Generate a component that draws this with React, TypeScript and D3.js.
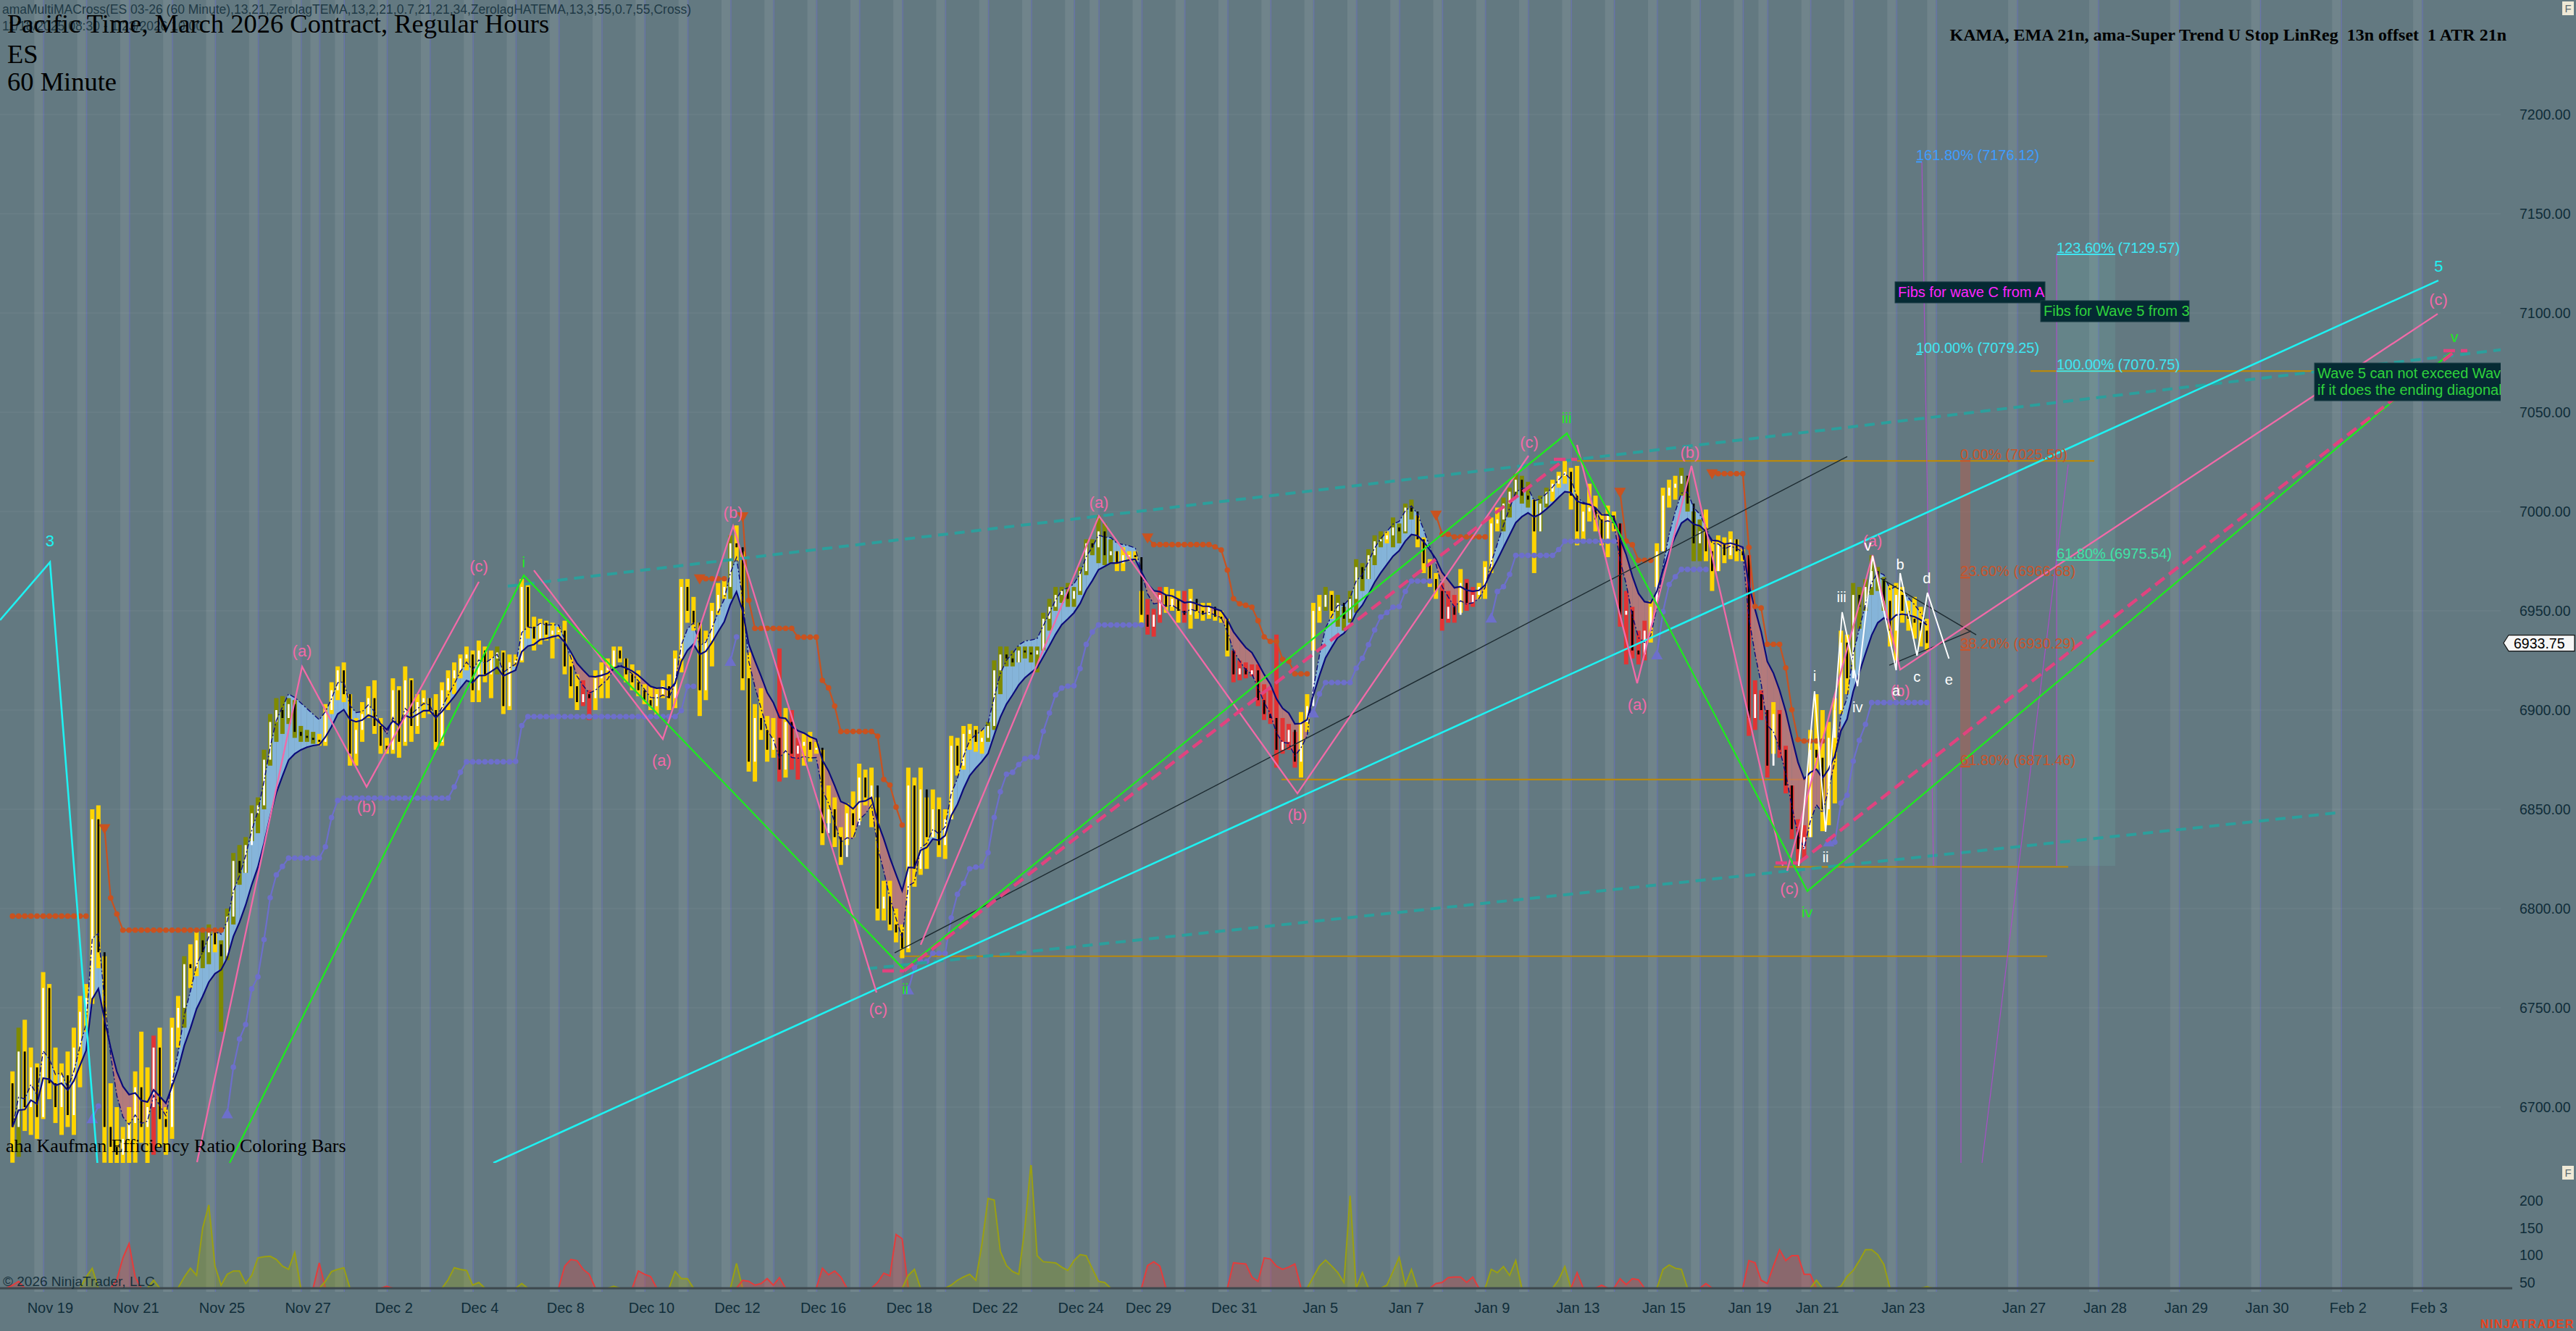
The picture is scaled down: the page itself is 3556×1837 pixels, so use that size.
import React from "react";
import * as d3 from "d3";

// ---------- sessions / axis data ----------
const sessions = ["Nov 18","Nov 19","Nov 20","Nov 21","Nov 24","Nov 25","Nov 26","Nov 27","Nov 28","Dec 1","Dec 2","Dec 3","Dec 4","Dec 5","Dec 8","Dec 9","Dec 10","Dec 11","Dec 12","Dec 15","Dec 16","Dec 17","Dec 18","Dec 19","Dec 22","Dec 23","Dec 24","Dec 26","Dec 29","Dec 30","Dec 31","Jan 2","Jan 5","Jan 6","Jan 7","Jan 8","Jan 9","Jan 12","Jan 13","Jan 14","Jan 15","Jan 16","Jan 19","Jan 20","Jan 21","Jan 22","Jan 23"];
const sessionBars = [5,7,7,7,7,7,7,3,4,7,7,7,7,7,7,7,7,7,7,7,7,7,7,7,7,7,4,7,7,7,7,7,7,7,7,7,7,7,7,7,7,7,4,7,7,7,6];
const dateTicks = ["Nov 19","Nov 21","Nov 25","Nov 27","Dec 2","Dec 4","Dec 8","Dec 10","Dec 12","Dec 16","Dec 18","Dec 22","Dec 24","Dec 29","Dec 31","Jan 5","Jan 7","Jan 9","Jan 13","Jan 15","Jan 19","Jan 21","Jan 23"];
const futureSessions = ["Jan 26","Jan 27","Jan 28","Jan 29","Jan 30","Feb 2","Feb 3"];
const futureTicks = ["Jan 27","Jan 28","Jan 29","Jan 30","Feb 2","Feb 3"];
const priceTicks = [7200,7150,7100,7050,7000,6950,6900,6850,6800,6750,6700];
const oscTicks = [200,150,100,50];
const lastPrice = 6933.75;
const firstOpen = 6712;

// ---------- 60 minute bars ----------
const highs = [
6718,6740,6744,6730,6722,
6768,6762,6730,6722,6728,6740,6756,
6762,6850,6852,6776,6712,6700,6690,
6700,6718,6738,6720,6736,6740,6700,
6745,6756,6776,6782,6790,6788,6792,
6790,6784,6800,6828,6832,6836,6852,
6856,6880,6898,6906,6907,6906,6905,
6892,6890,6889,
6888,6903,6914,6922,
6924,6908,6896,6904,6912,6915,6896,
6886,6916,6912,6922,6916,6908,6910,
6906,6908,6914,6920,6924,6928,6932,
6930,6935,6932,6930,6932,6930,6928,
6928,6966,6964,6947,6946,6945,6944,
6942,6945,6928,6918,6915,6910,6920,
6924,6926,6932,6932,6926,6923,6920,
6913,6912,6911,6915,6918,6930,6966,
6966,6957,6944,6940,6954,6964,6966,
6988,6993,6980,6929,6903,6911,6897,
6896,6931,6901,6900,6886,6888,6889,
6884,6880,6862,6856,6841,6853,6859,
6873,6870,6871,6856,6814,6814,6800,
6792,6871,6866,6871,6856,6860,6856,
6850,6887,6886,6892,6893,6892,6890,
6894,6925,6932,6932,6930,6932,6932,
6932,6932,6949,6956,6962,6962,6964,
6962,6972,6986,6986,
6998,6994,6986,6980,6982,6980,6980,
6960,6956,6951,6962,6962,6961,6960,
6960,6961,6954,6954,6954,6950,6950,
6946,6930,6925,6924,6923,6923,6913,
6910,6938,6896,6893,6889,6899,6908,
6954,6958,6962,6960,6958,6952,6960,
6976,6974,6981,6988,6990,6990,6997,
6994,7004,7006,6998,6987,6976,6969,
6964,6960,6958,6971,6966,6962,6964,
6975,6997,7002,7007,7012,7019,7018,
7015,7006,7008,7012,7016,7020,7025.5,
7022,7023,7004,7014,7008,6999,7003,
7000,6994,6960,6952,6940,6945,6955,
6984,7012,7016,7018,7022,7018,7000,
6996,7001,6986,6988,6987,6990,6986,
6981,6978,6915,6910,
6900,6904,6900,6882,6862,6845,6842,
6890,6908,6900,6894,6906,6940,6938,
6964,6962,6966,6978,6972,6967,6963,
6964,6962,6955,6957,6952,6946];
const lows = [
6672,6675,6688,6686,6684,
6694,6704,6692,6686,6690,6686,6710,
6738,6752,6770,6672,6668,6668,6668,
6670,6672,6682,6670,6676,6680,6676,
6684,6730,6740,6760,6766,6770,6772,
6778,6738,6774,6792,6812,6818,6834,
6838,6850,6872,6884,6888,6893,6886,
6884,6884,6883,
6882,6882,6898,6905,
6904,6872,6872,6884,6896,6888,6878,
6878,6878,6876,6882,6884,6888,6896,
6898,6880,6882,6900,6908,6916,6920,
6904,6904,6914,6906,6918,6898,6900,
6922,6924,6936,6930,6933,6935,6926,
6936,6918,6906,6900,6902,6895,6900,
6906,6906,6920,6924,6914,6910,6907,
6903,6900,6897,6906,6900,6901,6919,
6944,6940,6897,6905,6922,6948,6956,
6956,6975,6910,6869,6864,6885,6874,
6876,6864,6866,6870,6865,6872,6874,
6878,6832,6843,6831,6822,6832,6836,
6844,6852,6841,6794,6794,6789,6783,
6775,6778,6811,6817,6820,6836,6826,
6825,6845,6867,6870,6880,6879,6878,
6884,6890,6908,6922,6922,6924,6926,
6924,6919,6930,6940,6950,6954,6952,
6952,6958,6968,6978,
6974,6973,6974,6970,6970,6975,6975,
6943,6938,6937,6944,6949,6950,6944,
6944,6941,6946,6945,6946,6945,6944,
6927,6914,6915,6916,6917,6902,6895,
6893,6871,6878,6880,6871,6866,6889,
6930,6944,6950,6946,6942,6940,6944,
6949,6960,6966,6973,6982,6984,6982,
6984,6989,6996,6982,6969,6962,6956,
6940,6944,6944,6949,6950,6952,6956,
6956,6969,6990,6990,6997,7008,7004,
7002,6969,6990,7002,7005,7012,7014,
7001,6983,6986,6995,6990,6983,6977,
6990,6942,6923,6926,6923,6925,6934,
6962,6980,7002,7006,7008,7000,6975,
6975,6975,6960,6970,6974,6976,6975,
6975,6887,6890,6895,
6866,6878,6876,6858,6835,6822,6825,
6836,6870,6839,6842,6853,6898,6908,
6920,6941,6950,6958,6960,6950,6932,
6925,6944,6940,6936,6932,6930];
const closes = [
6690,6728,6700,6720,6695,
6760,6712,6700,6716,6696,6730,6748,
6755,6845,6778,6690,6680,6676,6684,
6692,6710,6690,6700,6730,6694,6690,
6740,6750,6772,6770,6784,6778,6788,
6782,6776,6796,6824,6818,6832,6848,
6852,6875,6894,6900,6896,6903,6889,
6887,6886,6885,
6884,6900,6910,6920,
6908,6878,6890,6898,6906,6892,6882,
6880,6910,6884,6915,6892,6904,6906,
6900,6884,6910,6916,6920,6926,6928,
6910,6930,6918,6926,6929,6902,6924,
6925,6962,6942,6936,6944,6938,6940,
6940,6922,6912,6904,6908,6906,6916,
6920,6922,6930,6926,6918,6914,6910,
6905,6902,6908,6912,6906,6926,6962,
6950,6944,6910,6935,6950,6958,6962,
6984,6982,6916,6874,6896,6890,6880,
6886,6870,6894,6878,6882,6884,6880,
6881,6838,6850,6836,6826,6848,6842,
6866,6856,6862,6800,6806,6792,6788,
6780,6862,6820,6860,6836,6850,6832,
6845,6882,6872,6888,6890,6884,6886,
6892,6920,6928,6926,6924,6930,6929,
6928,6930,6946,6952,6958,6960,6956,
6960,6970,6984,6982,
6990,6978,6980,6974,6978,6978,6977,
6948,6942,6948,6958,6952,6956,6950,
6948,6956,6950,6948,6952,6947,6946,
6930,6918,6921,6918,6920,6905,6898,
6896,6880,6884,6890,6874,6894,6902,
6950,6952,6958,6950,6954,6946,6956,
6972,6966,6978,6985,6986,6988,6992,
6990,7002,7000,6986,6974,6966,6960,
6946,6952,6948,6964,6954,6958,6962,
6972,6994,6996,7004,7010,7016,7008,
7006,6990,7004,7010,7014,7018,7020,
7008,6990,7000,7002,6996,6986,6998,
6994,6948,6950,6930,6928,6940,6952,
6980,7008,7012,7014,7018,7004,6984,
6990,6980,6970,6984,6978,6986,6980,
6978,6896,6908,6900,
6872,6898,6880,6862,6840,6830,6836,
6880,6876,6850,6886,6900,6934,6916,
6958,6952,6962,6970,6966,6955,6940,
6958,6950,6946,6944,6940,6933.75];
// lower panel oscillator (positive = olive rising, negative = red falling, 0 = at floor)
const osc = [
-45,-52,0,0,0,0,0,0,0,0,
0,0,60,76,0,0,0,-55,-95,-121,
-60,0,0,54,0,0,0,40,60,76,
63,150,192,80,45,65,71,71,48,63,
95,97,98,92,80,74,105,0,0,0,
-86,52,70,74,77,0,0,0,0,0,
0,-43,0,0,0,0,0,0,0,0,
0,55,77,74,72,45,50,0,0,0,
0,0,0,48,0,0,0,0,0,0,
-80,-92,-90,-74,-65,0,0,0,43,0,
0,0,-71,-65,-61,0,0,0,70,57,
57,0,0,0,0,0,0,0,85,-54,
-52,-45,-48,-57,-45,-59,0,0,0,0,
0,0,-76,-64,-71,-60,0,0,0,0,
0,-50,-67,-62,-138,-130,63,74,0,0,
0,0,0,45,54,60,65,54,120,204,
201,107,81,70,65,150,269,99,88,87,
86,78,72,90,101,99,75,52,50,0,
0,0,0,0,0,-81,-88,-80,0,0,
0,0,0,0,0,0,0,0,0,-86,
-85,-84,-60,-52,-95,-93,-80,-74,-78,-84,
0,0,60,80,91,80,68,50,209,37,
68,0,0,0,45,70,96,45,74,0,
0,0,-48,-50,-59,-60,-60,-50,-60,0,
0,74,68,79,63,90,0,0,0,0,
0,0,55,79,0,-68,0,0,0,-45,
0,0,-57,-46,-57,-55,0,0,0,74,
82,76,74,0,0,0,-48,0,0,0,
0,0,0,-90,-86,-54,-48,-80,-110,-90,
-99,-99,-65,-65,54,0,0,0,43,61,
72,90,110,110,101,83,0,0,0,0,
0,0,42];

// ---------- drawing objects: [bar slot, price] ----------
type Pt = [number, number];
const cyanWave3: Pt[] = [[-1.53,6945.3],[6.61,6974.5],[14.64,6660]];
const cyanChannel: Pt[] = [[78.87,6671.9],[395.87,7116.4]];
const greenWaves: Pt[] = [[35.89,6671.9],[83.83,6967.9],[145.81,6769.3],[253.84,7039.4],[293.03,6808.8],[398.0,7080.3]];
const pinkZigzags: Pt[][] = [
  [[30.58,6672.3],[47.70,6921.9],[58.21,6861.3],[76.51,6964.6]],
  [[85.48,6970.4],[106.49,6885.4],[117.95,6992.7],[141.32,6757.7]],
  [[148.52,6781.8],[177.57,6997.8],[209.92,6858.0],[247.58,7028.1]],
  [[255.49,7033.6],[265.29,6913.5],[274.14,7023.0],[289.02,6821.5]],
  [[289.73,6819.0],[303.66,6978.1],[308.15,6920.4],[395.75,7099.6]],
];
const dashedPink: Pt[][] = [
  [[145.81,6768.6],[253.48,7026.3]],
  [[291.62,6823.0],[398.70,7081.0]],
  [[142.27,6768.6],[145.81,6768.6]],
  [[251.71,7026.3],[255.49,7026.3]],
  [[287.84,6823.0],[291.62,6823.0]],
  [[396.69,7081.0],[400.59,7081.0]],
];
const tealDashed: Pt[][] = [
  [[81.23,6962.4],[407.79,7082.1]],
  [[139.79,6769.7],[379.22,6848.2]],
];
const blackLines: Pt[][] = [
  [[144.27,6777.7],[299.53,7027.7]],
  [[304.96,6966.4],[320.54,6937.9]],
  [[306.38,6922.6],[319.72,6939.8]],
];
const whiteWave: Pt[] = [[291.62,6821.5],[294.2,6909.5],[296.0,6838.7],[298.7,6949.3],[301.2,6912.0],[303.66,6977.7],[307.5,6920.1],[308.15,6969.0],[310.9,6927.4],[312.6,6959.1],[316.1,6925.9]];
const levelLines = [
  { price: 6776, from: 144.98, to: 332.11 },
  { price: 6865, from: 207.32, to: 293.98 },
  { price: 6821, from: 287.60, to: 335.54 },
  { price: 7025.5, from: 255.49, to: 339.79 },
  { price: 7070.75, from: 329.40, to: 397.52 },
];
const fibToolLines: Pt[][] = [
  [[311.69,7176.12],[313.58,6821.5]],
  [[333.65,7129.57],[333.65,6821.5]],
  [[335.54,7023.7],[321.49,6671.9]],
  [[318.06,6871.46],[318.06,6671.9]],
];
const fibWaveA = [
  { pct: "0.00%", price: 7025.50 },
  { pct: "23.60%", price: 6966.68 },
  { pct: "38.20%", price: 6930.29 },
  { pct: "61.80%", price: 6871.46 },
];
const fibWaveC = [
  { pct: "161.80%", price: 7176.12, color: "#3f9cff" },
  { pct: "100.00%", price: 7079.25, color: "#3fe6f2" },
];
const fibWave5 = [
  { pct: "123.60%", price: 7129.57, color: "#3fe6f2" },
  { pct: "100.00%", price: 7070.75, color: "#3fe6f2" },
  { pct: "61.80%", price: 6975.54, color: "#3fe3a6" },
];
const pinkLabels = [
  ["(a)",47.7,6929.9],["(b)",58.2,6851.1],["(c)",76.5,6972.3],
  ["(a)",106.3,6874.5],["(b)",117.95,6999.6],["(c)",141.6,6749.6],
  ["(a)",177.57,7004.7],["(b)",209.9,6847.4],["(c)",247.7,7035.0],
  ["(a)",265.3,6902.9],["(b)",273.9,7029.9],["(c)",290.1,6809.9],
  ["(a)",303.66,6985.4],["(b)",308.15,6909.5],["(c)",395.87,7106.9],
] as [string, number, number][];
const greenLabels = [["i",83.8,6974.5],["ii",146.0,6759.5],["iii",253.8,7047.1],["iv",293.0,6798.5],["v",398.5,7088.0]] as [string, number, number][];
const cyanLabels = [["3",6.6,6985.4],["5",395.9,7123.7]] as [string, number, number][];
const whiteLabels = [["i",294.2,6917],["ii",296.0,6826],["iii",298.6,6957],["iv",301.2,6901.5],["v",302.9,6983],["a",307.5,6910],["b",308.15,6973.4],["c",310.9,6916.8],["d",312.5,6966.4],["e",316.1,6915.3]] as [string, number, number][];
const notes = [
  { lines: ["Fibs for wave C from A"], slot: 307.32, price: 7115.7, w: 207, color: "#ff24ff" },
  { lines: ["Fibs for Wave 5 from 3"], slot: 331.05, price: 7106.2, w: 205, color: "#2fd23c" },
  { lines: ["Wave 5 can not exceed Wave 3", "if it does the ending diagonal count is invalid"], slot: 375.68, price: 7074.8, w: 470, color: "#2fd23c" },
];

const SANS = "'Liberation Sans', Arial, sans-serif";
const SERIF = "'Liberation Serif', 'Times New Roman', serif";

export default function App() {
  const W = 3556, H = 1837;
  const step = 8.47;
  const n = closes.length;
  const x = d3.scaleLinear().domain([0, n]).range([13, 13 + n * step]);
  const y = d3.scaleLinear().domain([6700, 7200]).range([1528, 158]);
  const yv = d3.scaleLinear().domain([50, 200]).range([1770, 1657]);
  const cx = (i: number) => x(i + 0.5);

  // sessions
  const sessionStart: number[] = [];
  let acc = 0;
  sessionBars.forEach((b) => { sessionStart.push(acc); acc += b; });
  const futureStart = (k: number) => n + 0.5 + 13.2 * k;
  const dayStarts = [...sessionStart.slice(1), ...futureSessions.map((_, k) => futureStart(k))];

  const opens = closes.map((c, i) => (i === 0 ? firstOpen : closes[i - 1]));

  // Kaufman efficiency ratio colouring
  const YEL = "#ffd400", OLV = "#7f8a00", RED = "#e23434";
  const erN = 10;
  const barColor = closes.map((c, i) => {
    const j = Math.max(0, i - erN);
    let path = 0;
    for (let k = j + 1; k <= i; k++) path += Math.abs(closes[k] - closes[k - 1]);
    const dir = c - closes[j];
    const er = path > 0 ? Math.abs(dir) / path : 0;
    if (er < 0.42) return YEL;
    return dir > 0 ? OLV : RED;
  });

  // moving averages
  const ema = (a: number[], p: number) => {
    const k = 2 / (p + 1);
    const o: number[] = [];
    a.forEach((v, i) => o.push(i === 0 ? v : o[i - 1] + k * (v - o[i - 1])));
    return o;
  };
  const e1 = ema(closes, 8);
  const e2 = ema(e1, 8);
  const zl = e1.map((v, i) => 2 * v - e2[i]);
  const lineGen = d3.line<number>().x((_, i) => cx(i)).y((v) => y(v));

  // super trend stops
  const tr = closes.map((c, i) => (i === 0 ? highs[0] - lows[0] : Math.max(highs[i] - lows[i], Math.abs(highs[i] - closes[i - 1]), Math.abs(lows[i] - closes[i - 1]))));
  const atr: number[] = [];
  tr.forEach((t, i) => atr.push(i === 0 ? t : (atr[i - 1] * 20 + t) / 21));
  const mult = 2.2;
  const up: number[] = [], dn: number[] = [], trend: number[] = [];
  for (let i = 0; i < n; i++) {
    const mid = (highs[i] + lows[i]) / 2;
    let u = mid - mult * atr[i];
    let d = mid + mult * atr[i];
    if (i > 0) {
      if (closes[i - 1] > up[i - 1]) u = Math.max(u, up[i - 1]);
      if (closes[i - 1] < dn[i - 1]) d = Math.min(d, dn[i - 1]);
    }
    let t = i === 0 ? -1 : trend[i - 1];
    if (i > 0) {
      if (t === -1 && closes[i] > dn[i - 1]) t = 1;
      else if (t === 1 && closes[i] < up[i - 1]) t = -1;
    }
    up.push(u); dn.push(d); trend.push(t);
  }
  const stopVal = (i: number) => (trend[i] === 1 ? up[i] : dn[i]);
  const STOP_UP = "#6d6fcb", STOP_DN = "#c9521f";

  // oscillator segments
  const base = 39.4;
  const segs: { sign: number; pts: [number, number][] }[] = [];
  let i0 = 0;
  while (i0 < n) {
    if (osc[i0] === 0) { i0++; continue; }
    const s = Math.sign(osc[i0]);
    let j = i0;
    while (j + 1 < n && osc[j + 1] !== 0 && Math.sign(osc[j + 1]) === s) j++;
    const pts: [number, number][] = [[cx(i0 - 1), yv(base)]];
    for (let k = i0; k <= j; k++) pts.push([cx(k), yv(Math.max(base, Math.abs(osc[k])))]);
    pts.push([cx(Math.min(j + 1, n)), yv(base)]);
    segs.push({ sign: s, pts });
    i0 = j + 1;
  }
  const areaGen = d3.area<[number, number]>().x((d) => d[0]).y0(yv(base)).y1((d) => d[1]);
  const segLine = d3.line<[number, number]>().x((d) => d[0]).y((d) => d[1]);

  const ptLine = d3.line<Pt>().x((d) => x(d[0])).y((d) => y(d[1]));

  const bandColor = "rgba(255,255,255,0.085)";

  return (
    <svg width={W} height={H} style={{ position: "absolute", left: 0, top: 0, display: "block" }}>
      <defs>
        <clipPath id="pricePanel"><rect x={0} y={0} width={3452} height={1605} /></clipPath>
        <clipPath id="oscPanel"><rect x={0} y={1608} width={3468} height={172} /></clipPath>
      </defs>
      <rect x={0} y={0} width={W} height={H} fill="#637981" />

      {/* session bands */}
      {dayStarts.map((s, k) => (
        <g key={"band" + k}>
          <rect x={x(s) - 8} y={0} width={12} height={1783} fill={bandColor} />
          <line x1={x(s) + 5} x2={x(s) + 5} y1={0} y2={1783} stroke="rgba(112,112,214,0.5)" strokeWidth={1.3} />
        </g>
      ))}

      {/* grid */}
      {priceTicks.map((p) => (
        <line key={"g" + p} x1={0} x2={3452} y1={y(p)} y2={y(p)} stroke="rgba(255,255,255,0.05)" strokeWidth={1.5} />
      ))}

      <g clipPath="url(#pricePanel)">
        {/* fib zones */}
        <rect x={x(333.65)} y={y(7129.57)} width={x(343.21) - x(333.65)} height={y(6821.5) - y(7129.57)} fill="rgba(110,205,190,0.14)" />
        <rect x={x(317.95)} y={y(7025.5)} width={x(319.6) - x(317.95)} height={y(6871.46) - y(7025.5)} fill="rgba(205,85,60,0.38)" />

        {/* horizontal level lines */}
        {levelLines.map((l, k) => (
          <line key={"lv" + k} x1={x(l.from)} x2={x(l.to)} y1={y(l.price)} y2={y(l.price)} stroke="#b8890f" strokeWidth={2.2} />
        ))}

        {/* MA ribbon fill */}
        {closes.slice(0, n - 1).map((_, i) => {
          const pts = [[cx(i), y(e1[i])], [cx(i + 1), y(e1[i + 1])], [cx(i + 1), y(zl[i + 1])], [cx(i), y(zl[i])]];
          return (
            <polygon key={"f" + i} points={pts.map((p) => p.join(",")).join(" ")} fill={zl[i] >= e1[i] ? "rgba(136,186,226,0.9)" : "rgba(196,120,120,0.8)"} />
          );
        })}

        {/* candles */}
        {closes.map((c, i) => {
          const o = opens[i];
          const top = y(highs[i]);
          const bot = y(lows[i]);
          const bt = y(Math.max(o, c));
          const bb = y(Math.min(o, c));
          return (
            <g key={"c" + i}>
              <rect x={cx(i) - 3} y={top} width={6} height={Math.max(2, bot - top)} fill={barColor[i]} />
              <rect x={cx(i) - 1.4} y={bt} width={2.8} height={Math.max(1.6, bb - bt)} fill={c >= o ? "#ffffff" : "#000000"} />
            </g>
          );
        })}

        {/* MA lines */}
        <path d={lineGen(e1) || ""} fill="none" stroke="#0b0b7a" strokeWidth={2.2} />
        <path d={lineGen(zl) || ""} fill="none" stroke="#0b0b7a" strokeWidth={1.4} strokeDasharray="7 3 2 3" />

        {/* super trend stops */}
        {closes.slice(1).map((_, k) => {
          const i = k + 1;
          if (trend[i] !== trend[i - 1]) return null;
          return (
            <line key={"st" + i} x1={cx(i - 1)} x2={cx(i)} y1={y(stopVal(i - 1))} y2={y(stopVal(i))} stroke={trend[i] === 1 ? STOP_UP : STOP_DN} strokeWidth={2.2} />
          );
        })}
        {closes.map((_, i) => (
          <circle key={"sd" + i} cx={cx(i)} cy={y(stopVal(i))} r={3.8} fill={trend[i] === 1 ? STOP_UP : STOP_DN} />
        ))}
        {closes.map((_, i) => {
          if (i === 0 || trend[i] === trend[i - 1]) return null;
          const px = cx(i), py = y(stopVal(i));
          return trend[i] === 1 ? (
            <polygon key={"tr" + i} points={`${px - 8},${py + 6} ${px + 8},${py + 6} ${px},${py - 8}`} fill={STOP_UP} />
          ) : (
            <polygon key={"tr" + i} points={`${px - 8},${py - 6} ${px + 8},${py - 6} ${px},${py + 8}`} fill={STOP_DN} />
          );
        })}

        {/* trend / wave drawings */}
        {tealDashed.map((l, k) => (
          <path key={"td" + k} d={ptLine(l) || ""} stroke="#2c9f9c" strokeWidth={4} strokeDasharray="14 9" fill="none" />
        ))}
        {blackLines.map((l, k) => (
          <path key={"bl" + k} d={ptLine(l) || ""} stroke="#1c2a30" strokeWidth={1.4} fill="none" />
        ))}
        {fibToolLines.map((l, k) => (
          <path key={"fl" + k} d={ptLine(l) || ""} stroke="#a84fc6" strokeWidth={1.2} fill="none" />
        ))}
        <path d={ptLine(cyanWave3) || ""} stroke="#1ef2f2" strokeWidth={2.6} fill="none" />
        <path d={ptLine(cyanChannel) || ""} stroke="#1ef2f2" strokeWidth={2.6} fill="none" />
        {pinkZigzags.map((l, k) => (
          <path key={"pz" + k} d={ptLine(l) || ""} stroke="#f26aa8" strokeWidth={2.3} fill="none" />
        ))}
        <path d={ptLine(greenWaves) || ""} stroke="#1eea1e" strokeWidth={2.3} fill="none" />
        {dashedPink.map((l, k) => (
          <path key={"dp" + k} d={ptLine(l) || ""} stroke="#e0437f" strokeWidth={4.5} strokeDasharray="16 8" fill="none" />
        ))}
        <path d={ptLine(whiteWave) || ""} stroke="#ffffff" strokeWidth={2} fill="none" />

        {/* fib labels */}
        {fibWaveA.map((f, k) => (
          <g key={"fa" + k}>
            <line x1={x(317.95)} x2={x(319.6)} y1={y(f.price)} y2={y(f.price)} stroke="#c9542a" strokeWidth={2} />
            <text x={x(317.95)} y={y(f.price) - 2} fontFamily={SANS} fontSize={20} fill="#c9542a">{`${f.pct} (${f.price.toFixed(2)})`}</text>
          </g>
        ))}
        {fibWaveC.map((f, k) => (
          <g key={"fc" + k}>
            <line x1={x(310.74)} x2={x(311.69)} y1={y(f.price)} y2={y(f.price)} stroke={f.color} strokeWidth={2} />
            <text x={x(310.74)} y={y(f.price) - 2} fontFamily={SANS} fontSize={20} fill={f.color}>{`${f.pct} (${f.price.toFixed(2)})`}</text>
          </g>
        ))}
        {fibWave5.map((f, k) => (
          <g key={"f5" + k}>
            <line x1={x(333.65)} x2={x(343.21)} y1={y(f.price)} y2={y(f.price)} stroke={f.color} strokeWidth={2} />
            <text x={x(333.65)} y={y(f.price) - 2} fontFamily={SANS} fontSize={20} fill={f.color}>{`${f.pct} (${f.price.toFixed(2)})`}</text>
          </g>
        ))}

        {/* wave labels */}
        {pinkLabels.map(([t, s, p], k) => (
          <text key={"pl" + k} x={x(s)} y={y(p)} textAnchor="middle" dominantBaseline="central" fontFamily={SANS} fontSize={22} fill="#f26aa8">{t}</text>
        ))}
        {greenLabels.map(([t, s, p], k) => (
          <text key={"gl" + k} x={x(s)} y={y(p)} textAnchor="middle" dominantBaseline="central" fontFamily={SANS} fontSize={21} fill="#1eea1e">{t}</text>
        ))}
        {cyanLabels.map(([t, s, p], k) => (
          <text key={"cl" + k} x={x(s)} y={y(p)} textAnchor="middle" dominantBaseline="central" fontFamily={SANS} fontSize={22} fill="#1ef2f2">{t}</text>
        ))}
        {whiteLabels.map(([t, s, p], k) => (
          <text key={"wl" + k} x={x(s)} y={y(p)} textAnchor="middle" dominantBaseline="central" fontFamily={SANS} fontSize={20} fill="#ffffff">{t}</text>
        ))}

        {/* note boxes */}
        {notes.map((nt, k) => {
          const bx = x(nt.slot), by = y(nt.price);
          const bh = 6 + 23 * nt.lines.length;
          return (
            <g key={"nt" + k}>
              <rect x={bx} y={by} width={nt.w} height={bh} fill="#052a33" stroke="#1b3d45" strokeWidth={1} />
              {nt.lines.map((ln, j) => (
                <text key={j} x={bx + 4} y={by + 21 + 23 * j} fontFamily={SANS} fontSize={20} fill={nt.color}>{ln}</text>
              ))}
            </g>
          );
        })}

        <text x={8} y={1590} fontFamily={SERIF} fontSize={26} fill="#000">aha Kaufman Efficiency Ratio Coloring Bars</text>
      </g>

      {/* oscillator panel */}
      <g clipPath="url(#oscPanel)">
        {segs.map((sg, k) => (
          <g key={"os" + k}>
            <path d={areaGen(sg.pts) || ""} fill={sg.sign > 0 ? "rgba(150,160,20,0.33)" : "rgba(220,70,70,0.33)"} />
            <path d={segLine(sg.pts) || ""} fill="none" stroke={sg.sign > 0 ? "#9aa012" : "#e43c3c"} strokeWidth={2} />
          </g>
        ))}
        <line x1={x(0)} x2={x(n)} y1={1781} y2={1781} stroke="#a88a2a" strokeWidth={2} />
      </g>
      <line x1={0} x2={3468} y1={1778} y2={1778} stroke="#3d484e" strokeWidth={3} />

      {/* axes */}
      {priceTicks.map((p) => (
        <text key={"pt" + p} x={3478} y={y(p) + 7} fontFamily={SANS} fontSize={19.5} fill="#102d39">{p.toFixed(2)}</text>
      ))}
      {oscTicks.map((v) => (
        <text key={"ot" + v} x={3478} y={yv(v) + 7} fontFamily={SANS} fontSize={19.5} fill="#102d39">{v}</text>
      ))}
      {dateTicks.map((d) => {
        const idx = sessions.indexOf(d);
        return (
          <text key={"dt" + d} x={x(sessionStart[idx]) + 14} y={1812} textAnchor="middle" fontFamily={SANS} fontSize={20} fill="#102d39">{d}</text>
        );
      })}
      {futureTicks.map((d) => {
        const k = futureSessions.indexOf(d);
        return (
          <text key={"ft" + d} x={x(futureStart(k)) + 14} y={1812} textAnchor="middle" fontFamily={SANS} fontSize={20} fill="#102d39">{d}</text>
        );
      })}

      {/* last price marker */}
      <g>
        <polygon points={`${3456},${y(lastPrice)} ${3463},${y(lastPrice) - 11} ${3554},${y(lastPrice) - 11} ${3554},${y(lastPrice) + 11} ${3463},${y(lastPrice) + 11}`} fill="#f6f6f6" stroke="#111" strokeWidth={1.2} />
        <text x={3470} y={y(lastPrice) + 7} fontFamily={SANS} fontSize={19.5} fill="#000">{lastPrice.toFixed(2)}</text>
      </g>

      {/* header texts */}
      <text x={3} y={19} fontFamily={SANS} fontSize={17.5} fill="#1f3a46">amaMultiMACross(ES 03-26 (60 Minute),13,21,ZerolagTEMA,13,2,21,0.7,21,21,34,ZerolagHATEMA,13,3,55,0.7,55,Cross)</text>
      <text x={3} y={42} fontFamily={SANS} fontSize={17.5} fill="#1f3a46">11/18/2025 08:30 - 1/23/2026 10:00</text>
      <text x={10} y={45} fontFamily={SERIF} fontSize={36.5} fill="#000">Pacific Time, March 2026 Contract, Regular Hours</text>
      <text x={10} y={87} fontFamily={SERIF} fontSize={36.5} fill="#000">ES</text>
      <text x={10} y={125} fontFamily={SERIF} fontSize={36.5} fill="#000">60 Minute</text>
      <text x={3460} y={56} textAnchor="end" fontFamily={SERIF} fontWeight="bold" fontSize={24} fill="#000" style={{ whiteSpace: "pre" }}>{"KAMA, EMA 21n, ama-Super Trend U Stop LinReg  13n offset  1 ATR 21n"}</text>

      {/* footer */}
      <text x={4} y={1775} fontFamily={SANS} fontSize={19} fill="#17313c">© 2026 NinjaTrader, LLC</text>
      <text x={3554} y={1833} textAnchor="end" fontFamily={SANS} fontWeight="bold" fontSize={16} letterSpacing={1.5} fill="#e8431e">NINJATRADER</text>

      {/* F buttons */}
      {[2, 1609].map((yy) => (
        <g key={"F" + yy}>
          <rect x={3537} y={yy} width={16} height={19} fill="#efe9d6" />
          <text x={3545} y={yy + 15} textAnchor="middle" fontFamily={SANS} fontSize={15} fill="#5a6a70">F</text>
        </g>
      ))}
    </svg>
  );
}
